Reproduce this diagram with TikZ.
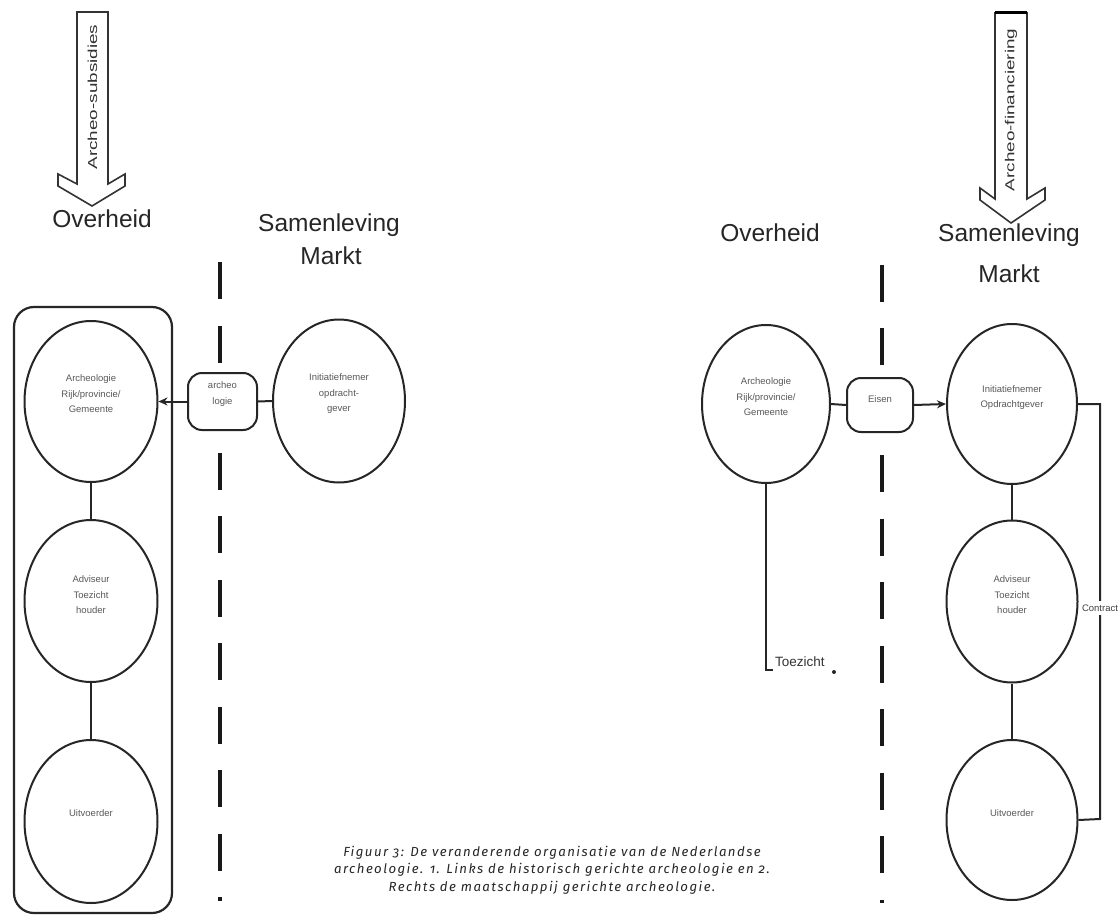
\documentclass[tikz,border=0pt]{standalone}
\usepackage{fontspec}
\setmainfont{Liberation Sans}
\newfontfamily\capfont[Numbers=OldStyle,LetterSpace=11]{Fira Sans}
\usetikzlibrary{shapes.geometric,arrows.meta}
\begin{document}
\begin{tikzpicture}[x=1pt,y=-1pt,
  oval/.style={draw=black!85,line width=2pt,ellipse,inner sep=0pt},
  lbl/.style={text=black!65,font=\fontsize{9.5}{15.5}\selectfont,align=center,inner sep=0pt},
  big/.style={font=\fontsize{24.5}{30}\selectfont,text=black!85,inner sep=0pt,anchor=base},
  conn/.style={draw=black!85,line width=2pt},
  divider/.style={line width=3.2pt,draw=black!90,dash pattern=on 37pt off 26.5pt},
  tag/.style={draw=black!85,line width=2pt,rectangle,rounded corners=14pt,inner sep=0pt},
  blockarrow/.style={draw=black!80,line width=1.6pt,fill=white,line join=miter},
  arrtext/.style={font=\fontsize{13}{13}\selectfont,text=black!80,inner sep=0pt,rotate=90}
]
\useasboundingbox (0,0) rectangle (1119,915);
\fill[white] (0,0) rectangle (1119,915);

% ---------- left panel ----------
\draw[blockarrow] (77,12) -- (108,12) -- (108,184) -- (125,174) -- (125,186) -- (92,206) -- (58,186) -- (58,174) -- (77,184) -- cycle;
\node[arrtext] (asub) at (92.5,97) {\scalebox{1.45}[1]{Archeo-subsidies}};
\node[big] (ovL) at (102,227) {Overheid};
\node[big] (samL) at (329,231) {Samenleving};
\node[big] (mktL) at (331,264) {Markt};

\draw[divider] (220,262) -- (220,901);

\draw[draw=black!85,line width=2.2pt,rounded corners=20pt] (14,307) rectangle (172,913);

\node[oval,minimum width=133pt,minimum height=161pt] (L1) at (91,401.5) {};
\node[oval,minimum width=133pt,minimum height=162pt] (L2) at (91,601) {};
\node[oval,minimum width=133pt,minimum height=163pt] (L3) at (91,821.5) {};
\node[lbl] (L1t) at (91,394) {Archeologie\\Rijk/provincie/\\Gemeente};
\node[lbl] (L2t) at (91,595) {Adviseur\\Toezicht\\houder};
\node[lbl] (L3t) at (91,813) {Uitvoerder};
\draw[conn] (L1.south) -- (L2.north);
\draw[conn] (L2.south) -- (L3.north);

\node[tag,fill=white,minimum width=69pt,minimum height=57pt] (arch) at (222.5,401.5) {};
\node[lbl] (archt) at (222.5,394) {archeo\\logie};
\node[oval,minimum width=132pt,minimum height=163pt] (LI) at (339,401) {};
\node[lbl] (LIt) at (339,394) {Initiatiefnemer\\opdracht-\\gever};
\draw[conn,-{Stealth[length=9pt,width=8pt]}] (arch.west) -- (L1.east);
\draw[conn] (arch.east) -- (LI.west);

% ---------- right panel ----------
\draw[blockarrow] (995,13) -- (1027,13) -- (1027,199) -- (1045,188) -- (1045,200) -- (1011,223) -- (980,200) -- (980,188) -- (995,199) -- cycle;
\draw[line width=3pt] (995,13) -- (1027,13);
\node[arrtext] (afin) at (1011,110) {\scalebox{1.45}[1]{Archeo-financiering}};
\node[big] (ovR) at (770,241) {Overheid};
\node[big] (samR) at (1009,241) {Samenleving};
\node[big] (mktR) at (1009,282) {Markt};

\draw[divider] (882,264.5) -- (882,903);

\node[oval,minimum width=128pt,minimum height=158pt] (R1) at (766,404) {};
\node[lbl] (R1t) at (766,397) {Archeologie\\Rijk/provincie/\\Gemeente};
\node[tag,fill=white,minimum width=66pt,minimum height=54pt] (eisen) at (880,405) {};
\node[lbl] (eisent) at (880,399) {Eisen};
\node[oval,minimum width=130pt,minimum height=160pt] (RI) at (1012,404) {};
\node[lbl] (RIt) at (1012,397.5) {Initiatiefnemer\\Opdrachtgever};
\node[oval,minimum width=131pt,minimum height=162pt] (RA) at (1012,601.5) {};
\node[lbl] (RAt) at (1012,595) {Adviseur\\Toezicht\\houder};
\node[oval,minimum width=131pt,minimum height=160pt] (RU) at (1012,820) {};
\node[lbl] (RUt) at (1012,813) {Uitvoerder};

\draw[conn] (R1.east) -- (eisen.west);
\draw[conn,-{Stealth[length=9pt,width=8pt]}] (eisen.east) -- (RI.west);
\draw[conn] (RI.south) -- (RA.north);
\draw[conn] (RA.south) -- (RU.north);

\coordinate (c1) at (1100,404);
\coordinate (c2) at (1100,819);
\draw[conn] (RI.east) -- (c1) -- (c2) -- (RU.east);
\node[lbl,fill=white,text=black!75,inner ysep=4pt] (contract) at (1100,608) {Contract};

\coordinate (t1) at (766,670);
\coordinate (t2) at (773,670);
\draw[conn] (R1.south) -- (t1) -- (t2);
\node[font=\fontsize{13.5}{14}\selectfont,text=black!80,anchor=base west,inner sep=0pt] (toez) at (775,666) {Toezicht};
\fill[black!85] (834,672) circle (2pt);

% ---------- caption ----------
\node[font=\capfont\itshape\fontsize{13.2}{17.5}\selectfont,text=black!85,align=center,inner sep=0pt] (cap) at (552,870) {Figuur 3: De veranderende organisatie van de Nederlandse\\archeologie. 1. Links de historisch gerichte archeologie en 2.\\Rechts de maatschappij gerichte archeologie.};
\end{tikzpicture}
\end{document}
